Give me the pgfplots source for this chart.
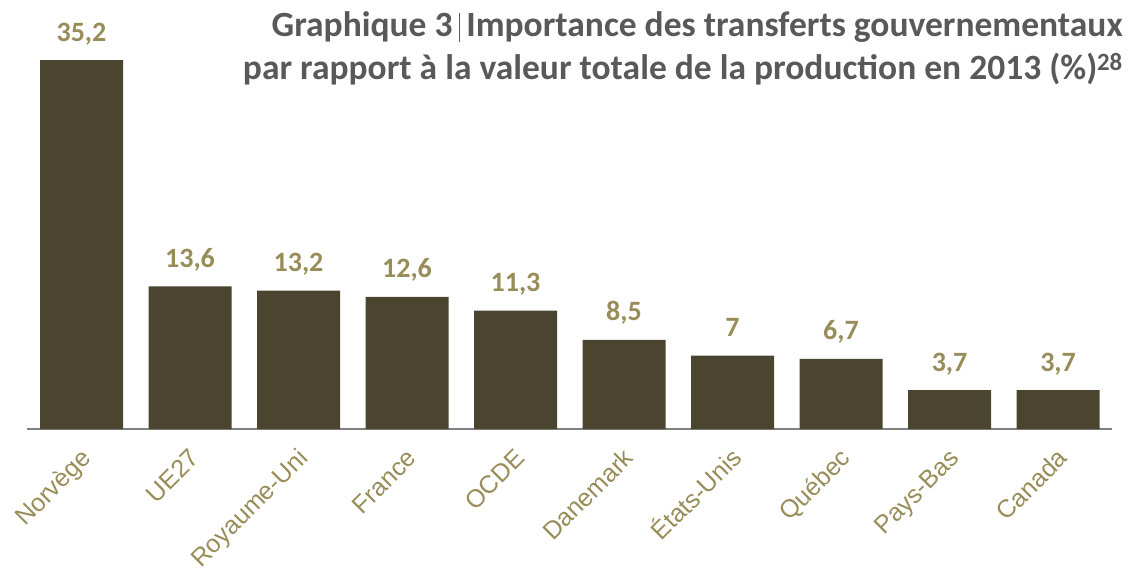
\documentclass[border=0pt]{standalone}
\usepackage{fontspec}
\setmainfont{Carlito}
\newfontfamily\arialfont{Liberation Sans}
\usepackage{pgfplots}
\pgfplotsset{compat=1.18}
\definecolor{barc}{RGB}{75,68,46}
\definecolor{gold}{RGB}{152,140,88}
\definecolor{titlegray}{RGB}{89,89,89}
\definecolor{axgray}{RGB}{128,128,128}
\begin{document}
\begin{tikzpicture}
\useasboundingbox (-27.25pt,-142pt) rectangle (1113.75pt,429pt);
\begin{axis}[
  scale only axis, width=1085pt, height=429pt,
  xmin=-0.5, xmax=9.5, ymin=0, ymax=40.94,
  axis y line=none, axis x line*=bottom,
  axis line style={-, draw=axgray, line width=2pt},
  xtick={0,...,9},
  xticklabels={Norvège,UE27,Royaume-Uni,France,OCDE,Danemark,États-Unis,Québec,Pays-Bas,Canada},
  major tick length=0pt,
  xticklabel style={font=\arialfont\fontsize{25}{25}\selectfont, text=gold, inner sep=0pt, text height=18pt, text depth=5pt, xshift=-2pt, yshift=-18pt, rotate=45, anchor=north east},
  ybar, bar width=83pt,
  nodes near coords, point meta=explicit symbolic,
  nodes near coords style={font=\bfseries\fontsize{28}{28}\selectfont, text=gold, anchor=base, inner sep=0pt, yshift=19pt},
  clip=false
]
\addplot[fill=barc, draw=none] coordinates {
(0,35.2) [{35,2}]
(1,13.6) [{13,6}]
(2,13.2) [{13,2}]
(3,12.6) [{12,6}]
(4,11.3) [{11,3}]
(5,8.5) [{8,5}]
(6,7) [{7}]
(7,6.7) [{6,7}]
(8,3.7) [{3,7}]
(9,3.7) [{3,7}]
};
\end{axis}
\node[anchor=base east, inner sep=0pt, text=titlegray, font=\bfseries\fontsize{35.5}{35.5}\selectfont] at (1095.75pt,392pt) {Graphique 3\hspace{6pt}\textcolor{titlegray}{\rule[-5pt]{1.8pt}{29pt}}\hspace{6pt}Importance des transferts gouvernementaux};
\node[anchor=base east, inner sep=0pt, text=titlegray, font=\bfseries\fontsize{35.5}{35.5}\selectfont] at (1095.75pt,349pt) {par rapport à la valeur totale de la production en 2013 (\%)\textsuperscript{28}};
\end{tikzpicture}
\end{document}
